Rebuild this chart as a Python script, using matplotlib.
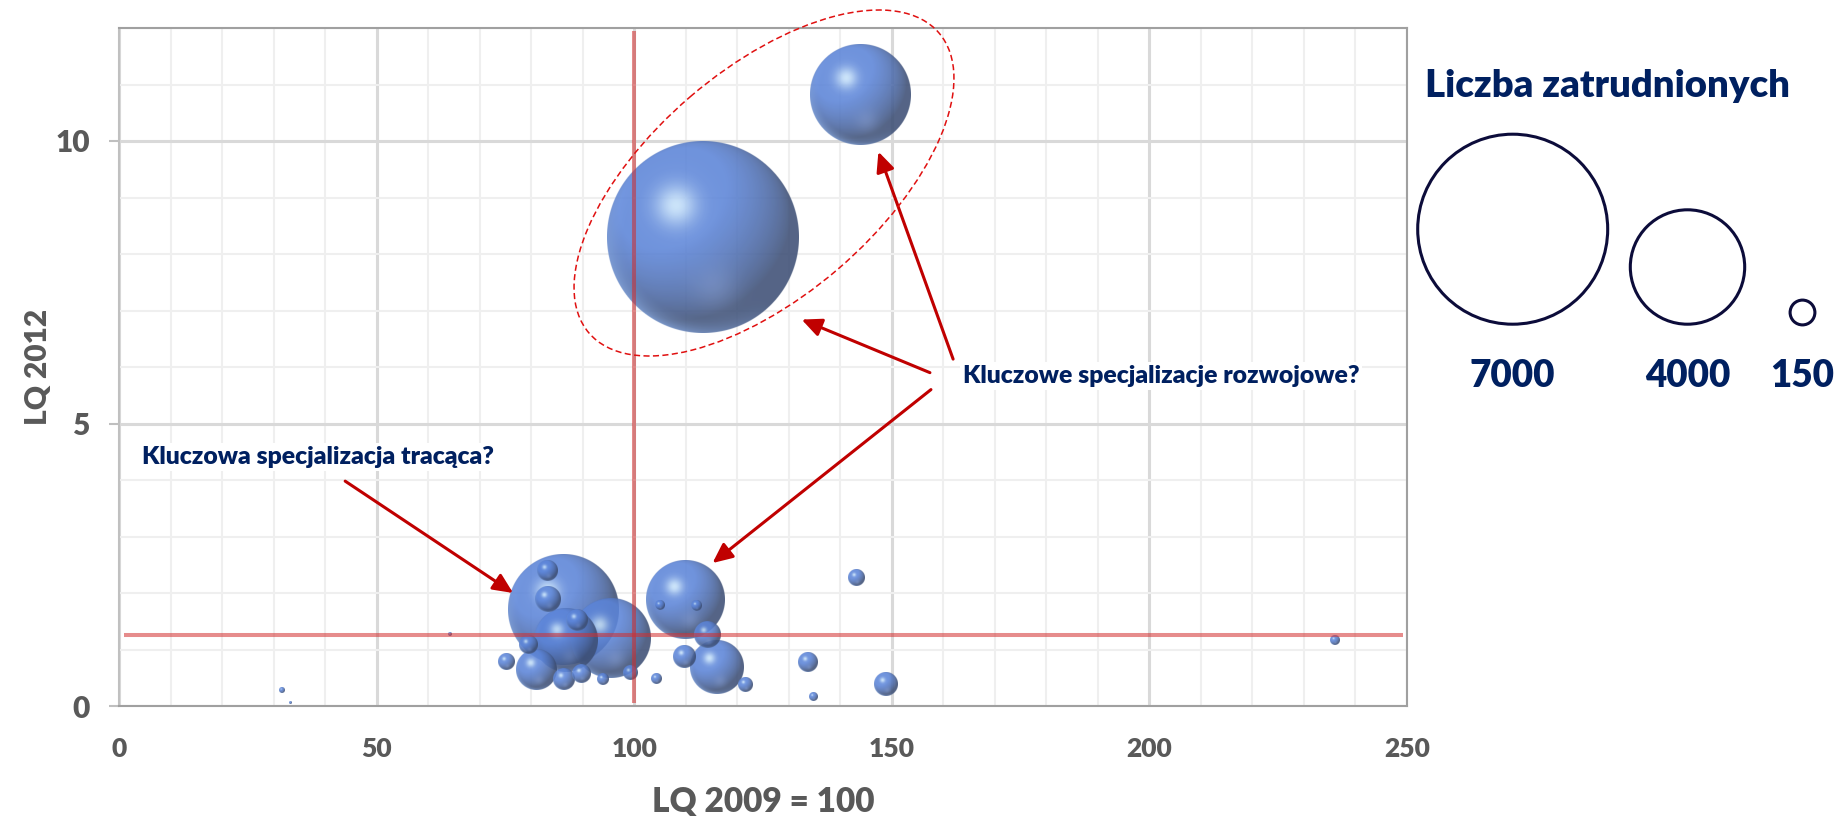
import numpy as np
import matplotlib
matplotlib.use("Agg")
import matplotlib.pyplot as plt
from matplotlib.patches import Ellipse, Circle, FancyArrowPatch
from matplotlib.ticker import MultipleLocator

# ---------------- data ----------------
lq2009 = [113.3, 143.8, 86.1, 95.4, 110.0, 86.8, 116.0, 80.9, 114.2, 83.2,
          148.8, 109.7, 88.8, 86.4, 83.0, 133.7, 79.4, 89.8, 143.1, 75.2,
          99.2, 121.6, 93.9, 104.2, 112.1, 236.0, 104.9, 134.8, 31.6, 64.1, 33.2]
lq2012 = [8.30, 10.82, 1.70, 1.20, 1.89, 1.17, 0.68, 0.64, 1.27, 1.89,
          0.38, 0.87, 1.52, 0.47, 2.39, 0.77, 1.08, 0.57, 2.27, 0.78,
          0.58, 0.37, 0.47, 0.48, 1.78, 1.17, 1.78, 0.16, 0.28, 1.27, 0.06]
employment = [7000, 1900, 2300, 1215, 1173, 763, 541, 304, 134, 122,
              104, 92, 87, 87, 76, 73, 66, 66, 54, 52,
              40, 40, 27, 21, 21, 17, 17, 14, 6, 2, 1]

ref_x = 100      # LQ 2009 = 100
ref_y = 1.26     # reference LQ level

x_ticks = [0, 50, 100, 150, 200, 250]
y_ticks = [0, 5, 10]

legend_values = [7000, 4000, 150]
legend_title = "Liczba zatrudnionych"
note_left = "Kluczowa specjalizacja tracąca?"
note_right = "Kluczowe specjalizacje rozwojowe?"
x_label = "LQ 2009 = 100"
y_label = "LQ 2012"

# ---------------- style ----------------
plt.rcParams["font.family"] = ["Lato", "DejaVu Sans"]
plt.rcParams["font.weight"] = "bold"
NAVY = "#002060"
GRAY = "#595959"
W, H = 1841, 816

fig = plt.figure(figsize=(W / 100, H / 100), dpi=100)
ax = fig.add_axes([119 / W, 1 - 706 / H, 1288 / W, 678 / H])
XMIN, XMAX, YMIN, YMAX = 0, 250, 0, 12

# bubble radius in pixels per sqrt(employment)
K = 96 / np.sqrt(7000)
px_x = ax.bbox.width / (XMAX - XMIN)
px_y = ax.bbox.height / (YMAX - YMIN)


def sphere_rgba(n, alpha):
    g = (np.arange(n) + 0.5) / n * 2 - 1
    u, v = np.meshgrid(g, g)
    d = np.sqrt(u ** 2 + v ** 2)
    z = np.sqrt(np.clip(1 - d ** 2, 0, 1))
    L = np.array([-0.4, -0.5, 0.77])
    L = L / np.linalg.norm(L)
    diff = np.clip(u * L[0] + v * L[1] + z * L[2], 0, 1)[..., None]
    base = np.array([0.36, 0.52, 0.85])
    dark = np.array([0.24, 0.31, 0.46])
    light = np.array([0.84, 0.94, 1.0])
    col = dark + (base - dark) * np.clip(diff * 1.25, 0, 1)
    spec = np.exp(-((u + 0.28) ** 2 + (v + 0.33) ** 2) / 0.045)[..., None]
    col = col + (light - col) * spec * 0.85
    glow = np.exp(-((u - 0.12) ** 2 + (v - 0.52) ** 2) / 0.05)[..., None] * 0.25
    col = col + (np.array([0.58, 0.68, 0.9]) - col) * glow
    rim = (np.clip((d - 0.82) / 0.18, 0, 1) ** 1.5 * np.clip((v - u) / 1.4, 0, 1) * 0.6)[..., None]
    col = col + (np.array([0.52, 0.69, 0.97]) - col) * rim
    a = np.clip((1 - d) * n / 2 + 0.5, 0, 1) * alpha
    return np.dstack([np.clip(col, 0, 1), a])


order = np.argsort(employment)[::-1]
for i in order:
    r = K * np.sqrt(employment[i])
    rx, ry = r / px_x, r / px_y
    n = int(max(32, 4 * r))
    ax.imshow(sphere_rgba(n, 0.88),
              extent=[lq2009[i] - rx, lq2009[i] + rx, lq2012[i] - ry, lq2012[i] + ry],
              origin="upper", aspect="auto", interpolation="antialiased", zorder=3)

# reference lines
ax.plot([ref_x, ref_x], [0.05, 11.95], color="#d22e2e", alpha=0.55, lw=2.9, zorder=4,
        solid_capstyle="butt")
ax.plot([1, 249.2], [ref_y, ref_y], color="#d22e2e", alpha=0.55, lw=2.9, zorder=4,
        solid_capstyle="butt")

ax.set_xlim(XMIN, XMAX)
ax.set_ylim(YMIN, YMAX)

# grid & ticks
ax.set_xticks(x_ticks, labels=[str(t) for t in x_ticks], fontweight="heavy")
ax.set_yticks(y_ticks, labels=[str(t) for t in y_ticks], fontweight="heavy")
ax.xaxis.set_minor_locator(MultipleLocator(10))
ax.yaxis.set_minor_locator(MultipleLocator(1))
ax.set_axisbelow(True)
ax.grid(which="major", color="#d9d9d9", lw=2.2)
ax.grid(which="minor", color="#efefef", lw=1.5)
ax.tick_params(axis="x", which="both", length=0, pad=22, labelsize=19, labelcolor=GRAY)
ax.tick_params(axis="y", which="major", length=7, width=1.5, color="#bfbfbf", pad=14,
               labelsize=21.5, labelcolor=GRAY)
ax.tick_params(axis="y", which="minor", length=0)
for s in ax.spines.values():
    s.set_color("#a0a0a0")
    s.set_linewidth(1.5)
ax.spines["left"].set_color("#c0c0c0")

ax.set_xlabel(x_label, fontsize=24, fontweight="heavy", color=GRAY, va="baseline")
ax.xaxis.set_label_coords(0.5, (706 - 811.7) / 678)
ax.set_ylabel(y_label, fontsize=21.5, fontweight="heavy", color=GRAY, va="center")
ax.yaxis.set_label_coords((38 - 119) / 1288, 0.5)

# annotations
txt_kw = dict(fontsize=17.8, fontweight="heavy", color=NAVY, va="baseline", ha="left", zorder=6,
              bbox=dict(fc="white", ec="none", pad=2))
ax.text(4.4, 4.28, note_left, **txt_kw)
ax.text(163.8, 5.72, note_right, **txt_kw)

arrows = [((43.9, 3.98), (76.5, 2.0)),
          ((157.6, 5.60), (115.2, 2.53)),
          ((157.4, 5.90), (132.5, 6.84)),
          ((161.9, 6.14), (147.4, 9.81))]
for (s, e) in arrows:
    ax.add_patch(FancyArrowPatch(s, e, arrowstyle="-|>,head_length=12,head_width=5.5",
                                 mutation_scale=1, color="#c00000", lw=2.2,
                                 shrinkA=0, shrinkB=0, zorder=7, clip_on=False))

# overlay in pixel coordinates (ellipse + size legend)
ov = fig.add_axes([0, 0, 1, 1], zorder=10)
ov.set_xlim(0, W)
ov.set_ylim(H, 0)
ov.axis("off")
ov.patch.set_alpha(0)

ov.add_patch(Ellipse((764, 183), 461, 227, angle=-40.6, fill=False, ec="#e01010",
                     lw=1.1, ls=(0, (4, 2.2))))

ov.text(1425, 96.7, legend_title, fontsize=27.5, fontweight="heavy", color=NAVY,
        ha="left", va="baseline")
leg_cx = [1512.7, 1687.5, 1802.5]
leg_cy = [229.2, 267.0, 312.5]
leg_r = [95.0, 57.2, 12.4]
for v, cx, cy, r in zip(legend_values, leg_cx, leg_cy, leg_r):
    ov.add_patch(Circle((cx, cy), r, fill=False, ec="#0c0c3a", lw=2.2))
    ov.text(cx, 386.7, str(v), fontsize=26.5, fontweight="heavy", color=NAVY,
            ha="center", va="baseline")

fig.savefig("out.png", dpi=100)
